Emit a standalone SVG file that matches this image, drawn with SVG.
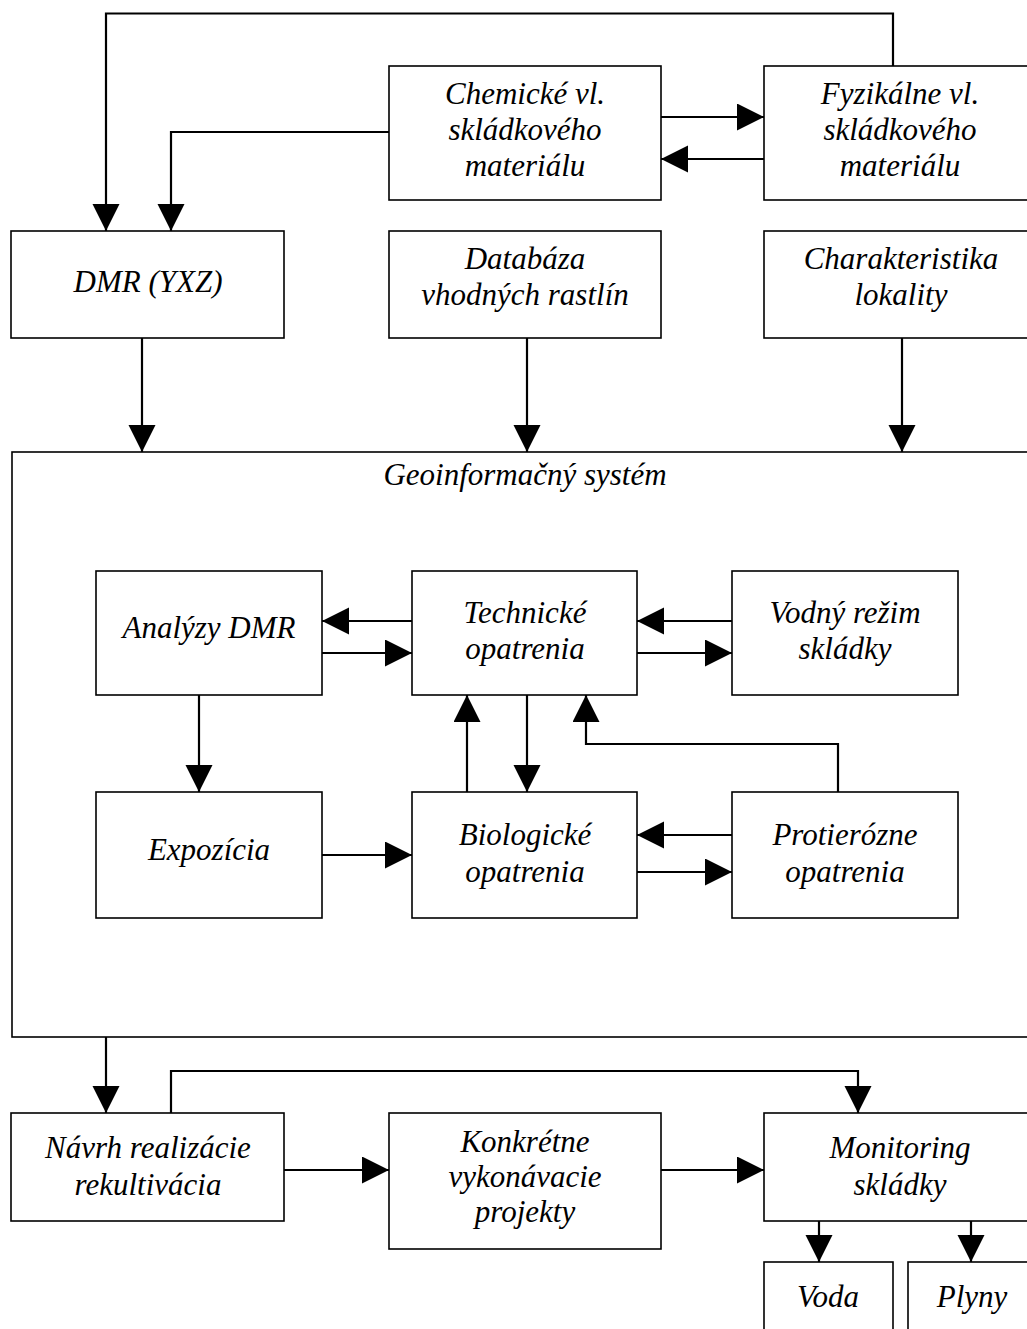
<svg xmlns="http://www.w3.org/2000/svg" width="1027" height="1329" viewBox="0 0 1027 1329">
<style>
.box{fill:#fff;stroke:#000;stroke-width:1.6}
.t{font-family:"Liberation Serif","Times New Roman",serif;font-style:italic;font-size:31px;fill:#000;text-anchor:middle}
.c{fill:none;stroke:#000;stroke-width:2.2}
</style>
<defs>
<marker id="ah" markerUnits="userSpaceOnUse" markerWidth="28" markerHeight="28" refX="27" refY="13.5" orient="auto">
<path d="M0,0 L27,13.5 L0,27 Z" fill="#000"/>
</marker>
</defs>
<rect width="1027" height="1329" fill="#fff"/>
<g id="n-chem"><rect class="box" x="389" y="66" width="272" height="134"/>
<text class="t" x="525" y="104">Chemické vl.</text><text class="t" x="525" y="140">skládkového</text><text class="t" x="525" y="176">materiálu</text></g>
<g id="n-fyz"><rect class="box" x="764" y="66" width="272" height="134"/>
<text class="t" x="900" y="104">Fyzikálne vl.</text><text class="t" x="900" y="140">skládkového</text><text class="t" x="900" y="176">materiálu</text></g>
<g id="n-dmr"><rect class="box" x="11" y="231" width="273" height="107"/>
<text class="t" x="148" y="292">DMR (YXZ)</text></g>
<g id="n-db"><rect class="box" x="389" y="231" width="272" height="107"/>
<text class="t" x="525" y="269">Databáza</text><text class="t" x="525" y="305">vhodných rastlín</text></g>
<g id="n-char"><rect class="box" x="764" y="231" width="272" height="107"/>
<text class="t" x="901" y="269">Charakteristika</text><text class="t" x="901" y="305">lokality</text></g>
<g id="n-gis"><rect class="box" x="12" y="452" width="1030" height="585"/>
<text class="t" x="525" y="485">Geoinformačný systém</text></g>
<g id="n-an"><rect class="box" x="96" y="571" width="226" height="124"/>
<text class="t" x="209" y="638">Analýzy DMR</text></g>
<g id="n-tech"><rect class="box" x="412" y="571" width="225" height="124"/>
<text class="t" x="525" y="623">Technické</text><text class="t" x="525" y="659">opatrenia</text></g>
<g id="n-vod"><rect class="box" x="732" y="571" width="226" height="124"/>
<text class="t" x="845" y="623">Vodný režim</text><text class="t" x="845" y="659">skládky</text></g>
<g id="n-exp"><rect class="box" x="96" y="792" width="226" height="126"/>
<text class="t" x="209" y="860">Expozícia</text></g>
<g id="n-bio"><rect class="box" x="412" y="792" width="225" height="126"/>
<text class="t" x="525" y="845">Biologické</text><text class="t" x="525" y="882">opatrenia</text></g>
<g id="n-prot"><rect class="box" x="732" y="792" width="226" height="126"/>
<text class="t" x="845" y="845">Protierózne</text><text class="t" x="845" y="882">opatrenia</text></g>
<g id="n-nav"><rect class="box" x="11" y="1113" width="273" height="108"/>
<text class="t" x="148" y="1158">Návrh realizácie</text><text class="t" x="148" y="1195">rekultivácia</text></g>
<g id="n-konk"><rect class="box" x="389" y="1113" width="272" height="136"/>
<text class="t" x="525" y="1152">Konkrétne</text><text class="t" x="525" y="1187">vykonávacie</text><text class="t" x="525" y="1222">projekty</text></g>
<g id="n-mon"><rect class="box" x="764" y="1113" width="272" height="108"/>
<text class="t" x="900" y="1158">Monitoring</text><text class="t" x="900" y="1195">skládky</text></g>
<g id="n-voda"><rect class="box" x="764" y="1262" width="129" height="90"/>
<text class="t" x="828" y="1307">Voda</text></g>
<g id="n-plyny"><rect class="box" x="908" y="1262" width="128" height="90"/>
<text class="t" x="972" y="1307">Plyny</text></g>
<g id="connectors" class="c" marker-end="url(#ah)">
<path class="c" d="M893,66 V13.5 H106 V231" marker-end="url(#ah)"/>
<path class="c" d="M389,132 H171 V231" marker-end="url(#ah)"/>
<path class="c" d="M661,117 H764" marker-end="url(#ah)"/>
<path class="c" d="M764,159 H661" marker-end="url(#ah)"/>
<path class="c" d="M142,338 V452" marker-end="url(#ah)"/>
<path class="c" d="M527,338 V452" marker-end="url(#ah)"/>
<path class="c" d="M902,338 V452" marker-end="url(#ah)"/>
<path class="c" d="M412,621 H322" marker-end="url(#ah)"/>
<path class="c" d="M322,653 H412" marker-end="url(#ah)"/>
<path class="c" d="M732,621 H637" marker-end="url(#ah)"/>
<path class="c" d="M637,653 H732" marker-end="url(#ah)"/>
<path class="c" d="M199,695 V792" marker-end="url(#ah)"/>
<path class="c" d="M322,855 H412" marker-end="url(#ah)"/>
<path class="c" d="M467,792 V695" marker-end="url(#ah)"/>
<path class="c" d="M527,695 V792" marker-end="url(#ah)"/>
<path class="c" d="M838,792 V744 H586 V695" marker-end="url(#ah)"/>
<path class="c" d="M732,835 H637" marker-end="url(#ah)"/>
<path class="c" d="M637,872 H732" marker-end="url(#ah)"/>
<path class="c" d="M106,1037 V1113" marker-end="url(#ah)"/>
<path class="c" d="M171,1113 V1071 H858 V1113" marker-end="url(#ah)"/>
<path class="c" d="M284,1170 H389" marker-end="url(#ah)"/>
<path class="c" d="M661,1170 H764" marker-end="url(#ah)"/>
<path class="c" d="M819,1221 V1262" marker-end="url(#ah)"/>
<path class="c" d="M971,1221 V1262" marker-end="url(#ah)"/>
</g>
</svg>
